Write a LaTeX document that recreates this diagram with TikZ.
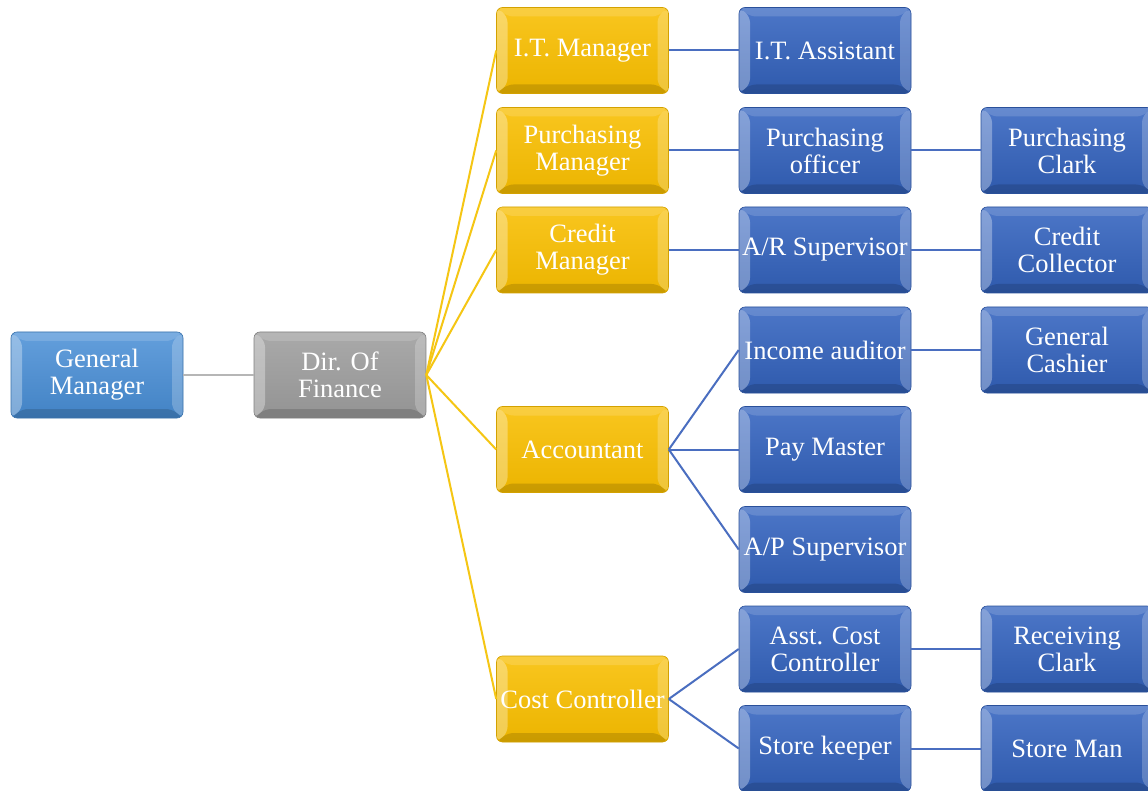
\documentclass[tikz,border=0pt]{standalone}
\usepackage{fontspec}
\setmainfont{Liberation Serif}
\usetikzlibrary{calc}
\definecolor{gmblue}{RGB}{72,142,214}
\definecolor{dirgray}{RGB}{160,160,160}
\definecolor{mgryellow}{RGB}{248,190,0}
\definecolor{staffblue}{RGB}{52,100,192}
\definecolor{linegray}{RGB}{182,182,182}
\definecolor{lineyellow}{RGB}{245,198,20}
\definecolor{lineblue}{RGB}{74,110,192}
\tikzset{
  bevel/.style={path picture={
    \coordinate (bnw) at (path picture bounding box.north west);
    \coordinate (bne) at (path picture bounding box.north east);
    \coordinate (bsw) at (path picture bounding box.south west);
    \coordinate (bse) at (path picture bounding box.south east);
    \fill[white,opacity=0.32] (bnw) -- ($(bnw)+(11,9)$) -- ($(bsw)+(11,-9)$) -- (bsw) -- cycle;
    \fill[white,opacity=0.22] (bne) -- ($(bne)+(-11,9)$) -- ($(bse)+(-11,-9)$) -- (bse) -- cycle;
    \fill[white,opacity=0.15] (bnw) -- (bne) -- ($(bne)+(-11,9)$) -- ($(bnw)+(11,9)$) -- cycle;
    \fill[black,opacity=0.14] (bsw) -- (bse) -- ($(bse)+(-11,-9)$) -- ($(bsw)+(11,-9)$) -- cycle;
  }},
  box/.style={rounded corners=6pt, minimum width=172pt, minimum height=86pt,
    inner sep=0pt, align=center, text=white,
    font=\fontsize{26.5}{27}\selectfont, bevel},
  gmbox/.style={box, draw=gmblue!80!black, line width=0.6pt,
    top color=gmblue!85!white, bottom color=gmblue!92!black},
  dirbox/.style={box, draw=dirgray!80!black, line width=0.6pt,
    top color=dirgray!90!white, bottom color=dirgray!92!black},
  mgrbox/.style={box, draw=mgryellow!85!black, line width=0.6pt,
    top color=mgryellow!88!white, bottom color=mgryellow!95!black},
  staffbox/.style={box, draw=staffblue!80!black, line width=0.6pt,
    top color=staffblue!88!white, bottom color=staffblue!90!black},
  graylink/.style={draw=linegray, line width=2pt},
  yellowlink/.style={draw=lineyellow, line width=2pt},
  bluelink/.style={draw=lineblue, line width=2pt},
}
\begin{document}
\begin{tikzpicture}[x=1pt,y=-1pt]
\useasboundingbox[fill=white] (0,0) rectangle (1148,791);

% top level
\node[gmbox]  (gm)  at (97,375)  {General\\Manager};
\node[dirbox] (dof) at (340,375) {Dir. Of\\Finance};

% managers
\node[mgrbox] (itm) at (582.5,50.5)  {I.T. Manager};
\node[mgrbox] (pm)  at (582.5,150.5) {Purchasing\\Manager};
\node[mgrbox] (cm)  at (582.5,250)   {Credit\\Manager};
\node[mgrbox] (acc) at (582.5,449.5) {Accountant};
\node[mgrbox] (cc)  at (582.5,699)   {Cost Controller};

% second level staff
\node[staffbox] (ita) at (825,50.5)  {I.T. Assistant};
\node[staffbox] (po)  at (825,150.5) {Purchasing\\officer};
\node[staffbox] (ars) at (825,250)   {A/R Supervisor};
\node[staffbox] (ia)  at (825,350)   {Income auditor};
\node[staffbox] (pay) at (825,449.5) {Pay Master};
\node[staffbox] (aps) at (825,549.5) {A/P Supervisor};
\node[staffbox] (acs) at (825,649)   {Asst. Cost\\Controller};
\node[staffbox] (sk)  at (825,748.5) {Store keeper};

% third level staff
\node[staffbox] (pc)   at (1067,150.5) {Purchasing\\Clark};
\node[staffbox] (ccol) at (1067,250)   {Credit\\Collector};
\node[staffbox] (gc)   at (1067,350)   {General\\Cashier};
\node[staffbox] (rc)   at (1067,649)   {Receiving\\Clark};
\node[staffbox] (sm)   at (1067,748.5) {Store Man};

% connectors
\path[graylink] (gm.east) -- (dof.west);
\foreach \m in {itm,pm,cm,acc,cc}
  \path[yellowlink] (dof.east) -- (\m.west);
\path[bluelink] (itm.east) -- (ita.west);
\path[bluelink] (pm.east) -- (po.west);
\path[bluelink] (cm.east) -- (ars.west);
\foreach \s in {ia,pay,aps}
  \path[bluelink] (acc.east) -- (\s.west);
\foreach \s in {acs,sk}
  \path[bluelink] (cc.east) -- (\s.west);
\path[bluelink] (po.east) -- (pc.west);
\path[bluelink] (ars.east) -- (ccol.west);
\path[bluelink] (ia.east) -- (gc.west);
\path[bluelink] (acs.east) -- (rc.west);
\path[bluelink] (sk.east) -- (sm.west);
\end{tikzpicture}
\end{document}
